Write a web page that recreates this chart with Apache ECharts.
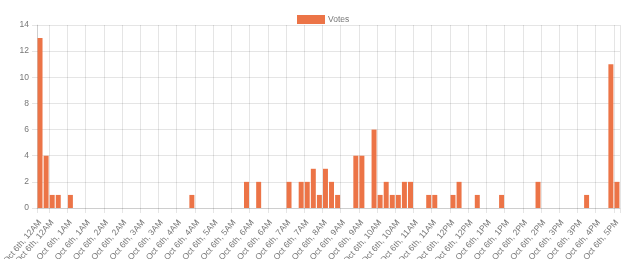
<!DOCTYPE html>
<html>
<head>
<meta charset="utf-8">
<script src="https://cdn.jsdelivr.net/npm/echarts@6/dist/echarts.min.js"></script>
<style>
  html, body { margin: 0; padding: 0; background: #fff; }
  #main { width: 628px; height: 259px; }
</style>
</head>
<body>
<div id="main"></div>
<script>
// one category per time slot
var times = [
  'Oct 6th, 12AM', 'Oct 6th, 12AM', 'Oct 6th, 12AM', 'Oct 6th, 12AM', 'Oct 6th, 12AM',
  'Oct 6th, 1AM', 'Oct 6th, 1AM', 'Oct 6th, 1AM', 'Oct 6th, 1AM', 'Oct 6th, 1AM', 'Oct 6th, 1AM',
  'Oct 6th, 2AM', 'Oct 6th, 2AM', 'Oct 6th, 2AM', 'Oct 6th, 2AM', 'Oct 6th, 2AM', 'Oct 6th, 2AM',
  'Oct 6th, 3AM', 'Oct 6th, 3AM', 'Oct 6th, 3AM', 'Oct 6th, 3AM', 'Oct 6th, 3AM', 'Oct 6th, 3AM',
  'Oct 6th, 4AM', 'Oct 6th, 4AM', 'Oct 6th, 4AM', 'Oct 6th, 4AM', 'Oct 6th, 4AM', 'Oct 6th, 4AM',
  'Oct 6th, 5AM', 'Oct 6th, 5AM', 'Oct 6th, 5AM', 'Oct 6th, 5AM', 'Oct 6th, 5AM', 'Oct 6th, 5AM',
  'Oct 6th, 6AM', 'Oct 6th, 6AM', 'Oct 6th, 6AM', 'Oct 6th, 6AM', 'Oct 6th, 6AM', 'Oct 6th, 6AM',
  'Oct 6th, 7AM', 'Oct 6th, 7AM', 'Oct 6th, 7AM', 'Oct 6th, 7AM', 'Oct 6th, 7AM', 'Oct 6th, 7AM',
  'Oct 6th, 8AM', 'Oct 6th, 8AM', 'Oct 6th, 8AM',
  'Oct 6th, 9AM', 'Oct 6th, 9AM', 'Oct 6th, 9AM', 'Oct 6th, 9AM', 'Oct 6th, 9AM', 'Oct 6th, 9AM',
  'Oct 6th, 10AM', 'Oct 6th, 10AM', 'Oct 6th, 10AM', 'Oct 6th, 10AM', 'Oct 6th, 10AM', 'Oct 6th, 10AM',
  'Oct 6th, 11AM', 'Oct 6th, 11AM', 'Oct 6th, 11AM', 'Oct 6th, 11AM', 'Oct 6th, 11AM', 'Oct 6th, 11AM',
  'Oct 6th, 12PM', 'Oct 6th, 12PM', 'Oct 6th, 12PM', 'Oct 6th, 12PM', 'Oct 6th, 12PM', 'Oct 6th, 12PM',
  'Oct 6th, 1PM', 'Oct 6th, 1PM', 'Oct 6th, 1PM', 'Oct 6th, 1PM', 'Oct 6th, 1PM', 'Oct 6th, 1PM',
  'Oct 6th, 2PM', 'Oct 6th, 2PM', 'Oct 6th, 2PM', 'Oct 6th, 2PM', 'Oct 6th, 2PM', 'Oct 6th, 2PM',
  'Oct 6th, 3PM', 'Oct 6th, 3PM', 'Oct 6th, 3PM', 'Oct 6th, 3PM', 'Oct 6th, 3PM', 'Oct 6th, 3PM',
  'Oct 6th, 4PM', 'Oct 6th, 4PM', 'Oct 6th, 4PM',
  'Oct 6th, 5PM'
];

var votes = [
  13, 4, 1, 1, 0, 1, 0, 0, 0, 0, 0, 0, 0, 0, 0, 0,
  0, 0, 0, 0, 0, 0, 0, 0, 0, 1, 0, 0, 0, 0, 0, 0,
  0, 0, 2, 0, 2, 0, 0, 0, 0, 2, 0, 2, 2, 3, 1, 3,
  2, 1, 0, 0, 4, 4, 0, 6, 1, 2, 1, 1, 2, 2, 0, 0,
  1, 1, 0, 0, 1, 2, 0, 0, 1, 0, 0, 0, 1, 0, 0, 0,
  0, 0, 2, 0, 0, 0, 0, 0, 0, 0, 1, 0, 0, 0, 11, 2
];

var seriesName = 'Votes';

// which categories get a tick label / grid line (like chart.js autoskip)
function shown(idx) {
  return idx === 0 || idx % 3 === 2;
}

var gridColor = 'rgba(0,0,0,0.1)';
var textColor = '#777';
var font = "'Liberation Sans', Arial, sans-serif";
var fontSize = 8.5;

var myChart = echarts.init(document.getElementById('main'));

var option = {
  animation: false,
  textStyle: { fontFamily: font },
  legend: {
    top: 10,
    left: 292,
    itemWidth: 28,
    itemHeight: 9,
    icon: 'rect',
    textStyle: { color: textColor, fontSize: fontSize, fontFamily: font, padding: [0, 0, 0, -2] },
    data: [seriesName]
  },
  grid: { left: 37, right: 8, top: 25, bottom: 51, outerBoundsMode: 'none', containLabel: false },
  xAxis: {
    type: 'category',
    data: times,
    boundaryGap: true,
    axisLine: { show: true, lineStyle: { color: gridColor } },
    axisTick: { show: true, length: 5, interval: shown, lineStyle: { color: gridColor } },
    splitLine: { show: true, interval: shown, lineStyle: { color: gridColor } },
    axisLabel: {
      interval: shown,
      rotate: 50,
      margin: 13,
      color: textColor,
      fontSize: fontSize,
      fontFamily: font
    }
  },
  yAxis: {
    type: 'value',
    min: 0,
    max: 14,
    interval: 2,
    axisLine: { show: true, lineStyle: { color: gridColor } },
    axisTick: { show: true, length: 5, lineStyle: { color: gridColor } },
    splitLine: { lineStyle: { color: gridColor } },
    axisLabel: { color: textColor, fontSize: fontSize, margin: 8, fontFamily: font }
  },
  series: [
    {
      name: seriesName,
      type: 'bar',
      data: votes,
      barCategoryGap: '18%',
      itemStyle: { color: '#ec7447' }
    }
  ]
};

myChart.setOption(option);
</script>
</body>
</html>
